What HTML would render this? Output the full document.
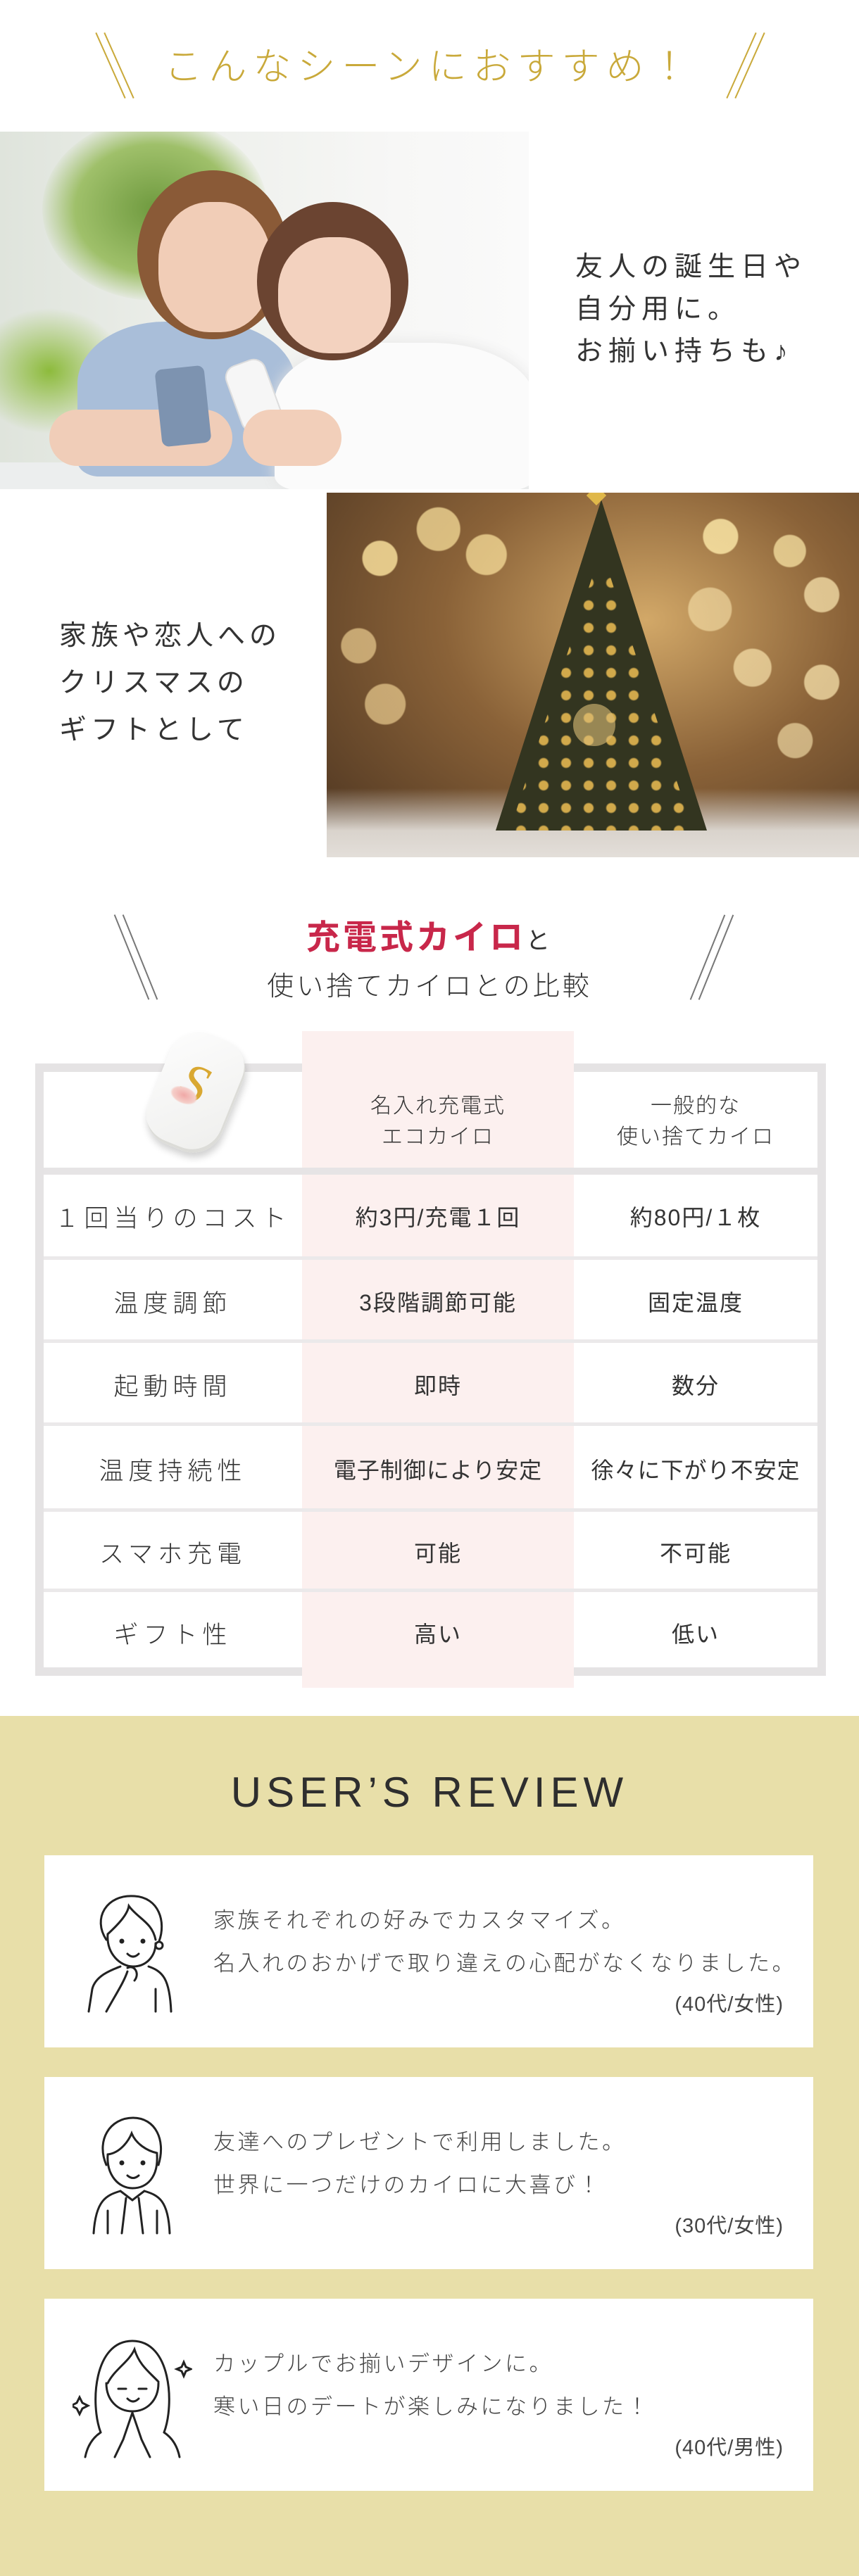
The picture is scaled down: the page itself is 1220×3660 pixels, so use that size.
<!DOCTYPE html>
<html><head><meta charset="utf-8">
<style>
*{margin:0;padding:0;box-sizing:border-box}
body{width:1220px;height:3660px;position:relative;background:#fff;font-family:"Liberation Sans","Noto Sans CJK JP",sans-serif;color:#333;overflow:hidden}
.a{position:absolute}
.t{position:absolute;white-space:nowrap;font-family:"Liberation Sans","Noto Sans CJK JP",sans-serif}
.slash{position:absolute;width:2px;background:#c9a93a}
.g{background:#e5e3e4;position:absolute}
.lab{position:absolute;left:62px;width:367px;text-align:center;font-size:35px;font-weight:300;letter-spacing:7px;color:#333}
.mid{position:absolute;left:429px;width:386px;text-align:center;font-size:32px;font-weight:400;letter-spacing:2px;color:#333}
.rgt{position:absolute;left:815px;width:346px;text-align:center;font-size:32px;font-weight:400;letter-spacing:2px;color:#333}
.card{position:absolute;left:63px;width:1092px;height:273px;background:#fff}
.rv{position:absolute;left:240px;font-size:31px;letter-spacing:3.5px;color:#444;font-weight:300;line-height:61px;top:62px}
.age{position:absolute;right:42px;top:188px;font-size:29px;color:#444;letter-spacing:1px}
</style></head><body>

<!-- Title 1 -->
<div class="slash" style="left:156px;top:42px;height:102px;transform:rotate(-24deg)"></div>
<div class="slash" style="left:168px;top:42px;height:102px;transform:rotate(-24deg)"></div>
<div class="slash" style="left:1052px;top:42px;height:102px;transform:rotate(24deg)"></div>
<div class="slash" style="left:1064px;top:42px;height:102px;transform:rotate(24deg)"></div>
<div class="t" style="left:0;width:1220px;text-align:center;top:50px;font-size:54px;letter-spacing:9px;color:#c9a93a;font-weight:300">こんなシーンにおすすめ！</div>

<!-- Photo 1 -->
<div class="a" style="left:0;top:187px;width:751px;height:508px;overflow:hidden;background:linear-gradient(90deg,#dfe4dc 0%,#eef0ec 40%,#f7f7f6 75%,#fafafa 100%)">
  <div class="a" style="left:60px;top:-20px;width:320px;height:260px;border-radius:50%;background:radial-gradient(#6f9a3f,#9fc06a 50%,rgba(200,220,180,0) 72%)"></div>
  <div class="a" style="left:-40px;top:250px;width:220px;height:180px;border-radius:50%;background:radial-gradient(#8dbb3c,rgba(160,200,100,0) 70%)"></div>
  <div class="a" style="left:0;top:470px;width:751px;height:60px;background:#eceeee"></div>
  <div class="a" style="left:110px;top:270px;width:310px;height:220px;border-radius:40% 40% 10% 10%;background:#a9bed9"></div>
  <div class="a" style="left:195px;top:55px;width:215px;height:240px;border-radius:50%;background:#8a5a37"></div>
  <div class="a" style="left:225px;top:100px;width:160px;height:185px;border-radius:45%;background:#f1cdb7"></div>
  <div class="a" style="left:70px;top:395px;width:260px;height:80px;border-radius:40px;background:#f0cdb8"></div>
  <div class="a" style="left:225px;top:335px;width:70px;height:110px;border-radius:10px;background:#7d93b0;transform:rotate(-6deg)"></div>
  <div class="a" style="left:390px;top:300px;width:370px;height:210px;border-radius:40% 40% 10% 10%;background:#fbfbfb;box-shadow:0 0 20px #e4e4e4"></div>
  <div class="a" style="left:365px;top:100px;width:215px;height:225px;border-radius:50%;background:#6b4431"></div>
  <div class="a" style="left:395px;top:150px;width:160px;height:165px;border-radius:45%;background:#f3d2bf"></div>
  <div class="a" style="left:330px;top:325px;width:60px;height:100px;border-radius:18px;background:#f6f6f6;border:2px solid #ddd;transform:rotate(-20deg)"></div>
  <div class="a" style="left:345px;top:395px;width:140px;height:80px;border-radius:40px;background:#f2cfba"></div>
</div>
<div class="t" style="left:817px;top:350px;font-size:39px;letter-spacing:8px;line-height:60px;color:#333">友人の誕生日や<br>自分用に。<br>お揃い持ちも♪</div>

<!-- Photo 2 -->
<div class="a" style="left:464px;top:700px;width:756px;height:518px;overflow:hidden;background:radial-gradient(ellipse at 60% 35%,#d2a868 0%,#8a6238 45%,#4a3320 100%)">
  <div class="a" style="left:0;top:0;width:756px;height:518px;background:
   radial-gradient(circle at 10% 18%,rgba(255,230,160,.8) 0 24px,transparent 26px),
   radial-gradient(circle at 21% 10%,rgba(255,230,160,.7) 0 30px,transparent 32px),
   radial-gradient(circle at 30% 17%,rgba(255,230,160,.7) 0 28px,transparent 30px),
   radial-gradient(circle at 74% 12%,rgba(255,235,170,.8) 0 24px,transparent 26px),
   radial-gradient(circle at 87% 16%,rgba(255,235,170,.7) 0 22px,transparent 24px),
   radial-gradient(circle at 93% 28%,rgba(255,235,180,.7) 0 24px,transparent 26px),
   radial-gradient(circle at 80% 48%,rgba(255,235,180,.65) 0 26px,transparent 28px),
   radial-gradient(circle at 93% 52%,rgba(255,235,180,.7) 0 24px,transparent 26px),
   radial-gradient(circle at 6% 42%,rgba(255,225,160,.6) 0 24px,transparent 26px),
   radial-gradient(circle at 11% 58%,rgba(255,225,160,.6) 0 28px,transparent 30px),
   radial-gradient(circle at 72% 32%,rgba(255,235,180,.55) 0 30px,transparent 32px),
   radial-gradient(circle at 88% 68%,rgba(255,235,180,.6) 0 24px,transparent 26px)"></div>
  <div class="a" style="left:0;top:420px;width:756px;height:100px;background:linear-gradient(180deg,rgba(220,210,200,0),#d9d3cc 60%,#e4dfda)"></div>
  <div class="a" style="left:240px;top:10px;width:0;height:0;border-left:150px solid transparent;border-right:150px solid transparent;border-bottom:470px solid #333520"></div>
  <div class="a" style="left:260px;top:80px;width:260px;height:400px;background:radial-gradient(circle,rgba(226,182,80,.9) 0 6px,transparent 8px) 0 0/32px 32px;clip-path:polygon(50% 0,100% 100%,0 100%)"></div>
  <div class="a" style="left:350px;top:300px;width:60px;height:60px;border-radius:50%;background:rgba(220,190,120,.6)"></div>
  <div class="a" style="left:373px;top:-6px;width:20px;height:20px;background:#e0b84a;transform:rotate(45deg)"></div>
</div>
<div class="t" style="left:84px;top:870px;font-size:39px;letter-spacing:6px;line-height:67px;color:#333">家族や恋人への<br>クリスマスの<br>ギフトとして</div>

<!-- Title 2 -->
<div class="slash" style="left:186px;top:1295px;height:130px;background:#777;width:1.5px;transform:rotate(-22deg)"></div>
<div class="slash" style="left:198px;top:1295px;height:130px;background:#777;width:1.5px;transform:rotate(-22deg)"></div>
<div class="slash" style="left:1004px;top:1295px;height:130px;background:#777;width:1.5px;transform:rotate(22deg)"></div>
<div class="slash" style="left:1016px;top:1295px;height:130px;background:#777;width:1.5px;transform:rotate(22deg)"></div>
<div class="t" style="left:0;width:1220px;text-align:center;top:1292px;font-size:48px;letter-spacing:4px;color:#c8274a;font-weight:700"><span>充電式カイロ</span><span style="font-size:34px;color:#333;font-weight:400">と</span></div>
<div class="t" style="left:0;width:1220px;text-align:center;top:1370px;font-size:38px;letter-spacing:4px;color:#333;font-weight:300">使い捨てカイロとの比較</div>

<!-- Table -->
<div class="a" style="left:429px;top:1465px;width:386px;height:933px;background:#fcf0ef"></div>
<div class="g" style="left:50px;top:1511px;width:379px;height:12px"></div>
<div class="g" style="left:815px;top:1511px;width:358px;height:12px"></div>
<div class="g" style="left:50px;top:1511px;width:12px;height:870px"></div>
<div class="g" style="left:1161px;top:1511px;width:12px;height:870px"></div>
<div class="g" style="left:50px;top:2369px;width:379px;height:12px"></div>
<div class="g" style="left:815px;top:2369px;width:358px;height:12px"></div>
<div class="g" style="left:62px;top:1659px;width:1099px;height:10px;background:#e6e4e5"></div>
<div class="g" style="left:62px;top:1785px;width:1099px;height:5px;background:#ebe9ea"></div>
<div class="g" style="left:62px;top:1903px;width:1099px;height:5px;background:#ebe9ea"></div>
<div class="g" style="left:62px;top:2021px;width:1099px;height:5px;background:#ebe9ea"></div>
<div class="g" style="left:62px;top:2143px;width:1099px;height:5px;background:#ebe9ea"></div>
<div class="g" style="left:62px;top:2257px;width:1099px;height:5px;background:#ebe9ea"></div>

<!-- device -->
<div class="a" style="left:222px;top:1468px;width:112px;height:168px;border-radius:44px;background:linear-gradient(135deg,#fdfdfd,#eeeeec);box-shadow:4px 6px 10px rgba(0,0,0,.18),inset -3px -4px 0 #dcdcd8;transform:rotate(22deg)">
  <div class="a" style="left:30px;top:30px;font-family:'Liberation Serif',serif;font-size:76px;color:#d9a832;font-style:italic">S</div>
  <div class="a" style="left:22px;top:82px;width:40px;height:24px;border-radius:50%;background:radial-gradient(#f0a8a6,#f5cfc9 60%,transparent 72%)"></div>
</div>

<div class="mid" style="top:1550px;line-height:44px;font-weight:300;font-size:30px">名入れ充電式<br>エコカイロ</div>
<div class="rgt" style="top:1550px;line-height:44px;font-weight:300;font-size:30px">一般的な<br>使い捨てカイロ</div>

<div class="lab" style="top:1703px">１回当りのコスト</div>
<div class="mid" style="top:1705px">約3円/充電１回</div>
<div class="rgt" style="top:1705px">約80円/１枚</div>
<div class="lab" style="top:1824px">温度調節</div>
<div class="mid" style="top:1826px">3段階調節可能</div>
<div class="rgt" style="top:1826px">固定温度</div>
<div class="lab" style="top:1942px">起動時間</div>
<div class="mid" style="top:1944px">即時</div>
<div class="rgt" style="top:1944px">数分</div>
<div class="lab" style="top:2062px">温度持続性</div>
<div class="mid" style="top:2064px;letter-spacing:1px">電子制御により安定</div>
<div class="rgt" style="top:2064px;letter-spacing:1px">徐々に下がり不安定</div>
<div class="lab" style="top:2180px">スマホ充電</div>
<div class="mid" style="top:2182px">可能</div>
<div class="rgt" style="top:2182px">不可能</div>
<div class="lab" style="top:2295px">ギフト性</div>
<div class="mid" style="top:2297px">高い</div>
<div class="rgt" style="top:2297px">低い</div>

<!-- Reviews -->
<div class="a" style="left:0;top:2438px;width:1220px;height:1222px;background:#e8dfa9"></div>
<div class="t" style="left:0;width:1220px;text-align:center;top:2512px;font-size:60px;letter-spacing:7px;color:#2e2e2e;font-weight:400">USER’S REVIEW</div>

<div class="card" style="top:2636px">
  <svg class="a" style="left:58px;top:50px" width="130" height="175" viewBox="0 0 130 175" fill="none" stroke="#222" stroke-width="3" stroke-linecap="round">
    <path d="M30 70 C10 40 30 5 70 8 C105 10 115 45 105 72"/>
    <path d="M32 62 C45 50 60 35 62 22 C75 40 95 45 100 70"/>
    <path d="M32 62 C30 90 50 108 68 108 C88 108 100 92 100 75"/>
    <circle cx="105" cy="78" r="5"/>
    <circle cx="52" cy="72" r="2" fill="#222"/><circle cx="82" cy="72" r="2" fill="#222"/>
    <path d="M60 90 Q68 98 76 90"/>
    <path d="M50 108 C40 112 15 120 10 140 L5 172"/>
    <path d="M90 108 C110 115 120 125 122 172"/>
    <path d="M60 115 C55 130 45 145 30 172"/>
    <path d="M60 110 C70 105 78 118 70 128"/>
    <path d="M100 140 L100 172"/>
  </svg>
  <div class="rv">家族それぞれの好みでカスタマイズ。<br>名入れのおかげで取り違えの心配がなくなりました。</div>
  <div class="age">(40代/女性)</div>
</div>

<div class="card" style="top:2951px">
  <svg class="a" style="left:58px;top:50px" width="130" height="175" viewBox="0 0 130 175" fill="none" stroke="#222" stroke-width="3" stroke-linecap="round">
    <path d="M30 75 C15 40 35 8 68 8 C100 8 115 40 104 75"/>
    <path d="M32 60 C50 58 62 40 66 30 C72 45 88 55 102 58"/>
    <path d="M32 60 C30 90 48 108 67 108 C88 108 104 92 102 60"/>
    <circle cx="52" cy="72" r="2" fill="#222"/><circle cx="82" cy="72" r="2" fill="#222"/>
    <path d="M60 90 Q68 97 76 90"/>
    <path d="M50 112 L67 125 L84 112"/>
    <path d="M50 112 C30 118 15 125 12 172"/>
    <path d="M84 112 C104 118 118 125 120 172"/>
    <path d="M58 122 L52 172 M76 122 L82 172 M32 140 L32 172 M102 140 L102 172"/>
  </svg>
  <div class="rv">友達へのプレゼントで利用しました。<br>世界に一つだけのカイロに大喜び！</div>
  <div class="age">(30代/女性)</div>
</div>

<div class="card" style="top:3266px">
  <svg class="a" style="left:40px;top:50px" width="170" height="180" viewBox="0 0 170 180" fill="none" stroke="#222" stroke-width="3" stroke-linecap="round">
    <path d="M40 140 C25 100 30 10 85 10 C140 10 145 100 130 140"/>
    <path d="M50 70 C60 50 80 40 88 22 C95 45 110 55 122 68"/>
    <path d="M48 70 C48 95 65 110 85 110 C105 110 122 95 122 70"/>
    <path d="M65 78 L76 78 M94 78 L105 78"/>
    <path d="M78 92 Q86 100 94 92"/>
    <path d="M85 112 L72 150 L60 175 M85 112 L98 150 L110 175"/>
    <path d="M40 140 C25 150 20 165 18 175 M130 140 C145 150 150 165 152 175"/>
    <path d="M10 90 l4 8 l8 4 l-8 4 l-4 8 l-4 -8 l-8 -4 l8 -4z"/>
    <path d="M158 40 l3 7 l7 3 l-7 3 l-3 7 l-3 -7 l-7 -3 l7 -3z"/>
  </svg>
  <div class="rv">カップルでお揃いデザインに。<br>寒い日のデートが楽しみになりました！</div>
  <div class="age">(40代/男性)</div>
</div>

</body></html>
